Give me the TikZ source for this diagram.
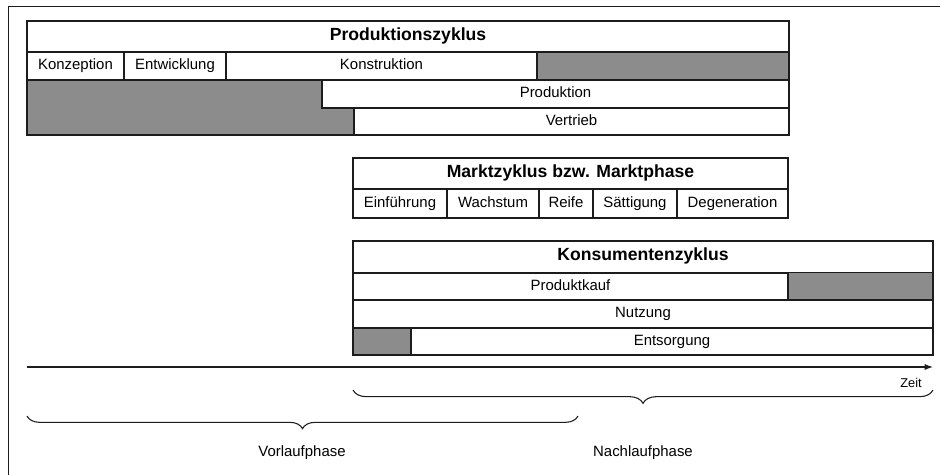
\documentclass[tikz,border=0pt]{standalone}
\usepackage{fontspec}
\setmainfont{Liberation Sans}
\usetikzlibrary{positioning, arrows.meta, decorations.pathreplacing}
\definecolor{inkBlack}{HTML}{1C1C1C}
\definecolor{shadeGray}{HTML}{8C8C8C}
\newcommand{\hd}[1]{{\fontsize{13.2}{15}\selectfont\bfseries #1}}

\begin{document}
\begin{tikzpicture}[
  x=0.75pt, y=-0.75pt,
  font=\fontsize{11.2}{13}\selectfont,
  >={Latex[length=2.2mm, width=1.6mm]},
  cell/.style={rectangle, draw=inkBlack, line width=0.8pt, fill=white, inner sep=0pt,
               outer sep=0pt, text height=8pt, text depth=2.2pt, anchor=north west},
  span/.style 2 args={minimum width=#1*0.75pt, minimum height=#2*0.75pt},
  shaded/.style={fill=shadeGray},
  phase/.style={decorate, line width=0.8pt, draw=inkBlack},
]
\useasboundingbox (0,0) rectangle (940,475);

% ===== page frame ===========================================================
\draw[line width=0.6pt, inkBlack] (8,475) -- (8,6) -- (940,6);

% ===== Produktionszyklus ====================================================
\fill[shaded] (537,52) rectangle (789,80);
\fill[shaded] (27,80) -| (322,108) -| (354,135) -- (27,135) -- cycle;
\node[cell, span={762}{31}] (prodh) at (27,21) {\hd{Produktionszyklus}};
\node[cell, span={97}{28}] (konz) at (prodh.south west) {Konzeption};
\node[cell, span={102}{28}] (entw) at (konz.north east) {Entwicklung};
\node[cell, span={311}{28}] (kons) at (entw.north east) {Konstruktion};
\node[cell, span={467}{28}] (prod) at (322,80) {Produktion};
\node[cell, span={435}{27}] (vert) at (354,108) {Vertrieb};
\draw[line width=0.8pt, inkBlack] (prodh.north west) rectangle (vert.south east);

% ===== Marktzyklus ==========================================================
\node[cell, span={435}{31}] (markth) at (353,158) {\hd{Marktzyklus bzw. Marktphase}};
\node[cell, span={94}{29}] (einf) at (markth.south west) {Einführung};
\node[cell, span={92}{29}] (wach) at (einf.north east) {Wachstum};
\node[cell, span={54}{29}] (reif) at (wach.north east) {Reife};
\node[cell, span={84}{29}] (saet) at (reif.north east) {Sättigung};
\node[cell, span={111}{29}] (dege) at (saet.north east) {Degeneration};

% ===== Konsumentenzyklus ====================================================
\node[cell, span={580}{32}] (konsh) at (353,241) {\hd{Konsumentenzyklus}};
\fill[shaded] (788,273) rectangle (933,300);
\fill[shaded] (353,328) rectangle (411,355);
\node[cell, span={435}{27}] (kauf) at (konsh.south west) {Produktkauf};
\node[cell, span={580}{28}] (nutz) at (kauf.south west) {Nutzung};
\node[cell, span={522}{27}] (ents) at (411,328) {Entsorgung};
\draw[line width=0.8pt, inkBlack] (konsh.north west) rectangle (ents.south east);

% ===== time axis ============================================================
\coordinate (t0) at (27,367);
\coordinate (t1) at (933,367);
\draw[->, line width=0.8pt, inkBlack] (t0) -- (t1);
\node[font=\fontsize{9.6}{11}\selectfont] (zeit) at (911,383) {Zeit};

% ===== lead / follow phases =================================================
\coordinate (vorA) at (27,416);
\coordinate (vorB) at (578,416);
\coordinate (nachA) at (353,390);
\coordinate (nachB) at (933,390);
\draw[phase, decoration={brace, mirror, amplitude=9.5pt}] (vorA) -- (vorB);
\draw[phase, decoration={brace, mirror, amplitude=10pt}] (nachA) -- (nachB);
\node (vorl) at (302,453) {Vorlaufphase};
\node (nachl) at (643,453) {Nachlaufphase};

\end{tikzpicture}
\end{document}
